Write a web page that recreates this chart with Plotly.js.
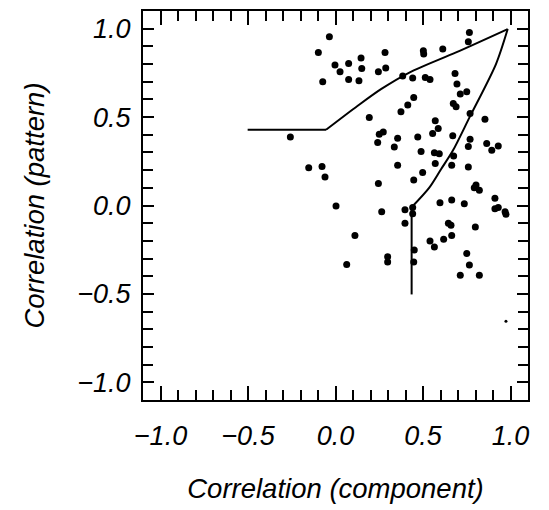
<!DOCTYPE html>
<html>
<head>
<meta charset="utf-8">
<script src="https://cdn.plot.ly/plotly-3.0.1.min.js"></script>
<style>html,body{margin:0;padding:0;background:#fff;}#chart{width:549px;height:510px;}</style>
</head>
<body>
<div id="chart"></div>
<script>
// Scatter points: correlation (component) vs correlation (pattern)
const compX = [
  -0.035, -0.098, -0.073, -0.003, 0.026, 0.075, 0.075, 0.146, 0.150, 0.134,
  0.245, 0.283, 0.287, 0.384, 0.441, 0.502, 0.504, 0.613, 0.765, 0.759,
  0.513, 0.540, 0.683, 0.694, 0.713, 0.750, 0.447, 0.413, 0.374, 0.673,
  0.689, 0.193, 0.570, 0.587, 0.854, 0.769, -0.258, 0.250, 0.273, 0.241,
  0.355, 0.336, 0.470, 0.555, 0.670, 0.769, 0.759, 0.864, 0.893, 0.930,
  0.489, 0.565, 0.593, 0.675, 0.355, 0.570, 0.664, 0.759, 0.498, -0.153,
  -0.077, -0.060, 0.245, 0.447, 0.803, 0.822, 0.793, 0.003, 0.264, 0.397,
  0.441, 0.441, 0.397, 0.597, 0.664, 0.736, 0.911, 0.911, 0.930, 0.969,
  0.974, 0.111, 0.645, 0.660, 0.799, 0.664, 0.618, 0.540, 0.565, 0.450,
  0.750, 0.298, 0.298, 0.447, 0.064, 0.765, 0.713, 0.822
];
const patternY = [
  0.955, 0.866, 0.700, 0.794, 0.756, 0.803, 0.713, 0.834, 0.775, 0.705,
  0.756, 0.866, 0.777, 0.732, 0.721, 0.875, 0.857, 0.885, 0.979, 0.926,
  0.724, 0.713, 0.747, 0.687, 0.630, 0.643, 0.611, 0.568, 0.530, 0.577,
  0.558, 0.497, 0.479, 0.435, 0.488, 0.520, 0.388, 0.403, 0.416, 0.356,
  0.381, 0.331, 0.388, 0.407, 0.394, 0.375, 0.333, 0.350, 0.313, 0.337,
  0.305, 0.299, 0.293, 0.280, 0.228, 0.237, 0.228, 0.218, 0.186, 0.214,
  0.220, 0.161, 0.124, 0.144, 0.116, 0.086, 0.101, -0.003, -0.035, -0.024,
  -0.012, -0.046, -0.101, 0.016, 0.031, 0.010, 0.041, -0.018, -0.012, -0.035,
  -0.050, -0.169, -0.101, -0.112, -0.122, -0.169, -0.191, -0.201, -0.235, -0.252,
  -0.271, -0.290, -0.320, -0.320, -0.333, -0.337, -0.394, -0.395
];
// one faint small point
const smallX = [0.974];
const smallY = [-0.654];

// Upper boundary: horizontal segment, then curve up to the apex
const upperFlatX = [-0.502, -0.054];
const upperFlatY = [0.428, 0.428];
const upperCurveX = [-0.054, 0.127, 0.260, 0.422, 0.689, 0.984];
const upperCurveY = [0.428, 0.564, 0.658, 0.752, 0.866, 0.998];
// Lower boundary: curve down from the apex, then vertical segment
const lowerCurveX = [0.984, 0.917, 0.765, 0.670, 0.603, 0.536, 0.435];
const lowerCurveY = [0.998, 0.800, 0.497, 0.309, 0.205, 0.101, -0.010];
const lowerVertX = [0.435, 0.435];
const lowerVertY = [-0.010, -0.503];

const tickVals = [-1.0, -0.5, 0.0, 0.5, 1.0];
const tickText = ['\u22121.0', '\u22120.5', '0.0', '0.5', '1.0'];

const fontFam = '"Liberation Sans", Arial, sans-serif';

const lineStyle = {color: 'black', width: 2};
const traces = [
  {x: upperFlatX, y: upperFlatY, mode: 'lines', line: lineStyle},
  {x: upperCurveX, y: upperCurveY, mode: 'lines', line: Object.assign({shape: 'spline', smoothing: 0.8}, lineStyle)},
  {x: lowerCurveX, y: lowerCurveY, mode: 'lines', line: Object.assign({shape: 'spline', smoothing: 0.8}, lineStyle)},
  {x: lowerVertX, y: lowerVertY, mode: 'lines', line: lineStyle},
  {x: compX, y: patternY, mode: 'markers', marker: {color: 'black', size: 7}},
  {x: smallX, y: smallY, mode: 'markers', marker: {color: 'black', size: 3}}
];

function axisCommon(len) {
  return {
    range: [-1.1, 1.1],
    tickmode: 'array', tickvals: tickVals, ticktext: tickText,
    ticks: 'inside', ticklen: len, tickwidth: 2, tickcolor: 'black',
    minor: {dtick: 0.1, tick0: 0, ticks: 'inside', ticklen: 10, tickwidth: 2, tickcolor: 'black'},
    showline: true, linecolor: 'black', linewidth: 2, mirror: 'allticks',
    showgrid: false, zeroline: false,
    tickfont: {family: fontFam, size: 27, color: 'black', style: 'italic'},
    fixedrange: true
  };
}

const xaxis = Object.assign(axisCommon(14), {
  title: {text: 'Correlation (component)', font: {family: fontFam, size: 27.5, color: 'black', style: 'italic'}, standoff: 28},
  ticklabelstandoff: 11
});
const yaxis = Object.assign(axisCommon(11), {
  title: {text: 'Correlation (pattern)', font: {family: fontFam, size: 27.5, color: 'black', style: 'italic'}, standoff: 25},
  ticklabelstandoff: 5
});

const layout = {
  width: 549, height: 510,
  margin: {l: 143, r: 21, t: 11, b: 110, autoexpand: false},
  paper_bgcolor: 'white', plot_bgcolor: 'white',
  showlegend: false,
  xaxis: xaxis, yaxis: yaxis
};

Plotly.newPlot('chart', traces, layout, {staticPlot: true, displayModeBar: false});
</script>
</body>
</html>
